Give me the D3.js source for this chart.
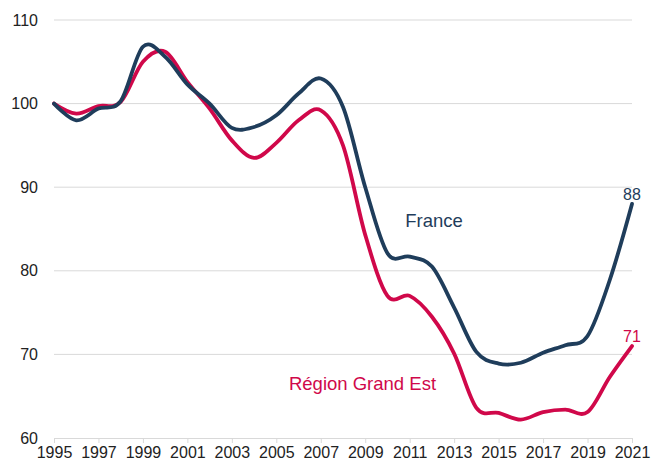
<!DOCTYPE html>
<html>
<head>
<meta charset="utf-8">
<script src="https://cdn.jsdelivr.net/npm/d3@7"></script>
<style>
  html, body { margin: 0; padding: 0; background: #ffffff; }
  svg { display: block; font-family: "Liberation Sans", Arial, sans-serif; }
</style>
</head>
<body>
<svg id="chart" width="653" height="464"></svg>
<script>
const years = d3.range(1995, 2022);
const france = [100, 98.0, 99.4, 100.3, 106.8, 105.6, 102.3, 100.0, 97.1, 97.2, 98.6, 101.2, 103.0, 99.6, 90.0, 82.1, 81.7, 80.5, 75.6, 70.3, 68.9, 69.0, 70.2, 71.1, 72.2, 78.9, 88.0];
const grandEst = [100, 98.8, 99.7, 100.2, 105.0, 106.2, 102.6, 99.4, 95.6, 93.5, 95.3, 98.0, 99.2, 95.0, 84.3, 77.0, 77.0, 74.5, 70.1, 63.6, 63.0, 62.2, 63.1, 63.4, 63.1, 67.3, 71.0];
const yTicks = [60, 70, 80, 90, 100, 110];
const xTicks = d3.range(1995, 2022, 2);
const seriesNames = ["France", "Région Grand Est"];
const colors = ["#1f3d5b", "#d0084a"];

const svg = d3.select("#chart");
const x = d3.scaleLinear().domain([1995, 2021]).range([54, 632]);
const y = d3.scaleLinear().domain([60, 110]).range([438, 20]);

// gridlines
svg.append("g")
  .selectAll("line")
  .data(yTicks.filter(d => d > 60))
  .join("line")
  .attr("x1", x(1995)).attr("x2", x(2021))
  .attr("y1", d => y(d)).attr("y2", d => y(d))
  .attr("stroke", "#d9d9d9").attr("stroke-width", 1);

// y axis labels
const yAxis = d3.axisLeft(y).tickValues(yTicks).tickSize(0).tickPadding(16).tickFormat(d3.format("d"));
const gy = svg.append("g").attr("transform", `translate(${x(1995)},0)`).call(yAxis);
gy.select(".domain").remove();
gy.selectAll("text").attr("font-size", 16).attr("fill", "#222").attr("font-family", "Liberation Sans, Arial, sans-serif");

// x axis
const xAxis = d3.axisBottom(x).tickValues(xTicks).tickSize(5).tickPadding(4).tickFormat(d3.format("d"));
const gx = svg.append("g").attr("transform", `translate(0,${y(60)})`).call(xAxis);
gx.select(".domain").attr("stroke", "#d9d9d9").attr("d", `M${x(1995)},0.5H${x(2021)}`);
gx.selectAll(".tick line").attr("stroke", "#d9d9d9");
gx.selectAll("text").attr("font-size", 16).attr("fill", "#222").attr("font-family", "Liberation Sans, Arial, sans-serif");

// lines
const line = d3.line()
  .x((d, i) => x(years[i]))
  .y(d => y(d))
  .curve(d3.curveCardinal.tension(0));

[grandEst, france].forEach((s, k) => {
  const idx = k === 0 ? 1 : 0;
  svg.append("path")
    .datum(s)
    .attr("fill", "none")
    .attr("stroke", colors[idx])
    .attr("stroke-width", 3.8)
    .attr("stroke-linejoin", "round")
    .attr("stroke-linecap", "round")
    .attr("d", line);
});

// end labels
const last = years.length - 1;
svg.append("text").attr("x", x(years[last])).attr("y", y(france[last]) - 4)
  .attr("text-anchor", "middle").attr("font-size", 16).attr("fill", colors[0]).text(d3.format("d")(france[last]));
svg.append("text").attr("x", x(years[last])).attr("y", y(grandEst[last]) - 4)
  .attr("text-anchor", "middle").attr("font-size", 16).attr("fill", colors[1]).text(d3.format("d")(grandEst[last]));

// series labels
svg.append("text").attr("x", x(2010.8)).attr("y", y(85.2))
  .attr("font-size", 18.5).attr("fill", colors[0]).text(seriesNames[0]);
svg.append("text").attr("x", x(2005.57)).attr("y", y(65.7))
  .attr("font-size", 18.5).attr("fill", colors[1]).text(seriesNames[1]);
</script>
</body>
</html>
